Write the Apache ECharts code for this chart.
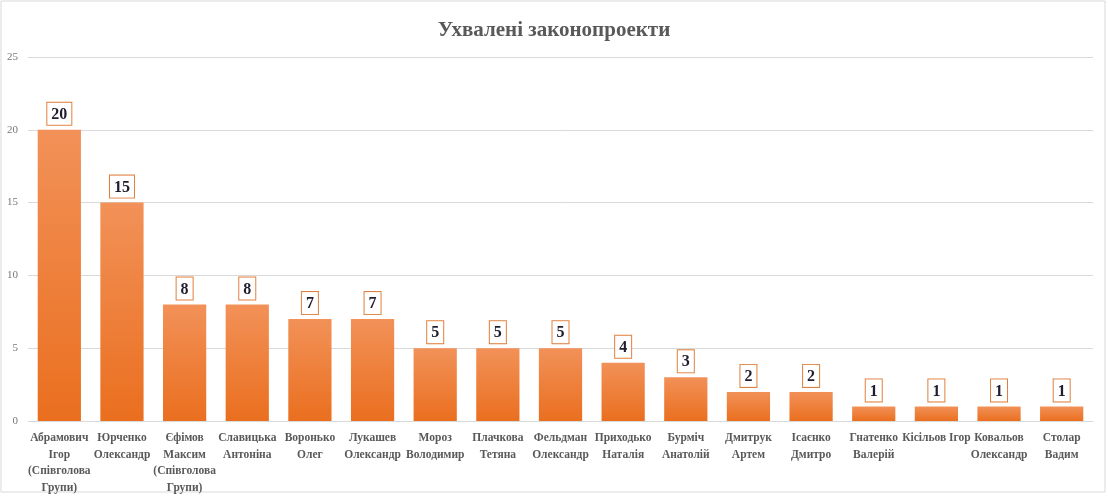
<!DOCTYPE html>
<html>
<head>
<meta charset="utf-8">
<script src="https://cdn.jsdelivr.net/npm/echarts@6/dist/echarts.min.js"></script>
<style>
  html, body { margin: 0; padding: 0; background: #fff; }
  #chart { width: 1108px; height: 497px; }
</style>
</head>
<body>
<div id="chart"></div>
<script>
// підписи категорій (як у вихідній діаграмі, з переносами)
var names = [
  'Абрамович\nІгор\n(Співголова\nГрупи)',
  'Юрченко\nОлександр',
  'Єфімов\nМаксим\n(Співголова\nГрупи)',
  'Славицька\nАнтоніна',
  'Воронько\nОлег',
  'Лукашев\nОлександр',
  'Мороз\nВолодимир',
  'Плачкова\nТетяна',
  'Фельдман\nОлександр',
  'Приходько\nНаталія',
  'Бурміч\nАнатолій',
  'Дмитрук\nАртем',
  'Ісаєнко\nДмитро',
  'Гнатенко\nВалерій',
  'Кісільов Ігор',
  'Ковальов\nОлександр',
  'Столар\nВадим'
];
var approved = [20, 15, 8, 8, 7, 7, 5, 5, 5, 4, 3, 2, 2, 1, 1, 1, 1];
var yTicks = [0, 5, 10, 15, 20, 25];

var myChart = echarts.init(document.getElementById('chart'));
var option = {
  backgroundColor: '#fff',
  animation: false,
  title: {
    text: 'Ухвалені законопроекти',
    left: 'center',
    top: 15,
    textStyle: {
      fontFamily: 'Liberation Serif',
      fontWeight: 'bold',
      fontSize: 21,
      color: '#595959'
    }
  },
  graphic: [{
    type: 'rect',
    shape: { x: 1, y: 1, width: 1104, height: 491 },
    style: { fill: 'none', stroke: '#d9d9d9', lineWidth: 1 },
    silent: true
  }],
  grid: { left: 28, right: 15, top: 57, bottom: 76, containLabel: false },
  xAxis: {
    type: 'category',
    data: names,
    axisTick: { show: false },
    axisLine: { lineStyle: { color: '#d9d9d9', width: 1 } },
    axisLabel: {
      interval: 0,
      margin: 9,
      fontFamily: 'Liberation Serif',
      fontWeight: 'bold',
      fontSize: 11.5,
      lineHeight: 16.5,
      color: '#595959'
    }
  },
  yAxis: {
    type: 'value',
    min: yTicks[0],
    max: yTicks[yTicks.length - 1],
    interval: 5,
    axisLine: { show: false },
    axisTick: { show: false },
    splitLine: { lineStyle: { color: '#d9d9d9', width: 1 } },
    axisLabel: {
      margin: 10,
      fontFamily: 'Liberation Serif',
      fontSize: 11,
      color: '#777'
    }
  },
  series: [{
    type: 'bar',
    data: approved,
    barCategoryGap: '31%',
    itemStyle: {
      color: new echarts.graphic.LinearGradient(0, 0, 0, 1, [
        { offset: 0, color: '#f29158' },
        { offset: 1, color: '#ea6f1f' }
      ])
    },
    label: {
      show: true,
      position: 'top',
      distance: 5,
      fontFamily: 'Liberation Serif',
      fontWeight: 'bold',
      fontSize: 16,
      color: '#1e1e2e',
      backgroundColor: '#fff',
      borderColor: '#e0803e',
      borderWidth: 1,
      padding: [4, 4, 2, 4]
    }
  }]
};
myChart.setOption(option);
</script>
</body>
</html>
